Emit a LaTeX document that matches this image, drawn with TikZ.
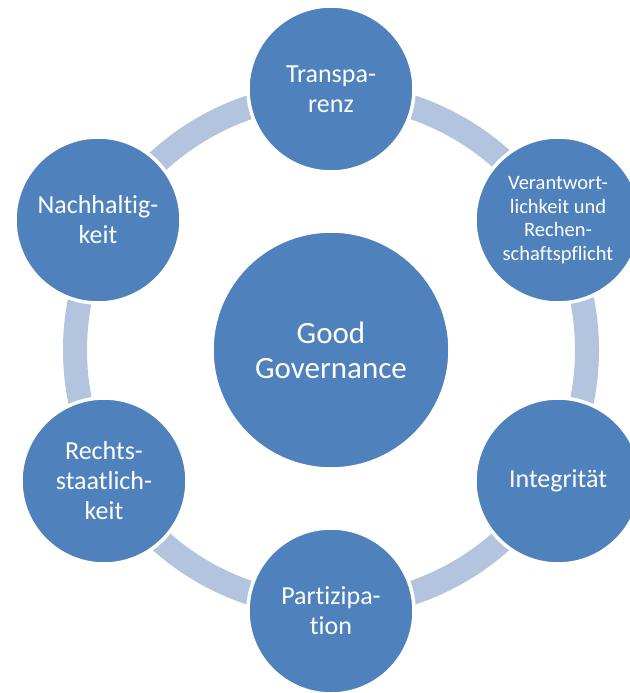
\documentclass[tikz,border=0pt]{standalone}
\usepackage{fontspec}
\setmainfont[Ligatures=NoCommon]{Carlito}
\definecolor{cblue}{HTML}{4F81BD}
\definecolor{ringblue}{HTML}{B3C4DF}
\begin{document}
\begin{tikzpicture}[x=1pt,y=-1pt,
  bubble/.style={circle, fill=cblue, draw=white, line width=3.5pt, minimum size=166pt, inner sep=0pt, text=white, align=center, font=\fontsize{26}{30}\selectfont},
  small/.style={font=\fontsize{20.5}{23.5}\selectfont},
  hub/.style={circle, fill=cblue, draw=white, line width=3.5pt, minimum size=238pt, inner sep=0pt, text=white, align=center, font=\fontsize{31}{35}\selectfont},
]
\useasboundingbox (0,0) rectangle (629,693);
\coordinate (c) at (331,350);
\draw[ringblue, line width=24pt] (c) circle[radius=256pt];
\node[hub] (gg) at (331,350) {Good\\Governance};
\node[bubble] (tr) at (331,89) {Transpa-\\renz};
\node[bubble, small] (ve) at (558,220) {Verantwort-\\lichkeit und\\Rechen-\\schaftspflicht};
\node[bubble] (in) at (558,481) {Integrität};
\node[bubble] (pa) at (331,611) {Partizipa-\\tion};
\node[bubble] (re) at (104,481) {Rechts-\\staatlich-\\keit};
\node[bubble] (na) at (98,220) {Nachhaltig-\\keit};
\end{tikzpicture}
\end{document}
